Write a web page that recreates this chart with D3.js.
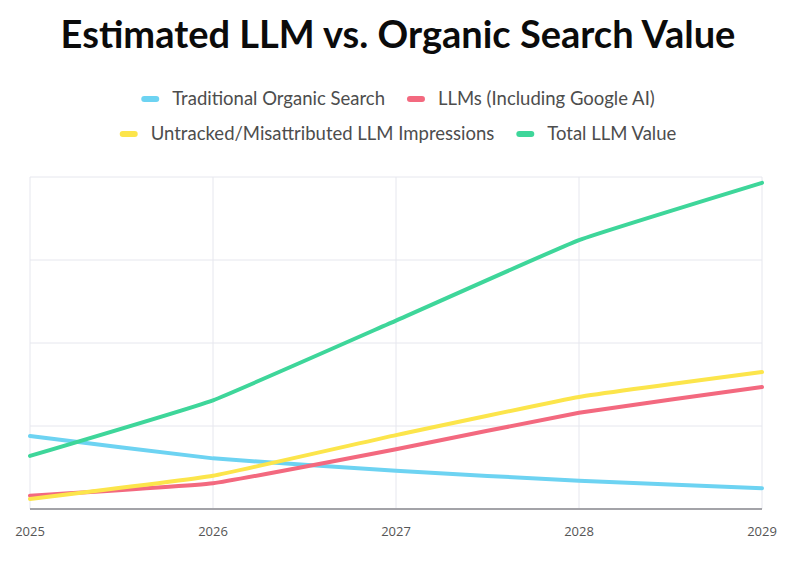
<!DOCTYPE html>
<html>
<head>
<meta charset="utf-8">
<script src="https://cdn.jsdelivr.net/npm/d3@7"></script>
<style>
body{margin:0;background:#fff;}
svg{display:block;font-family:Lato,"Open Sans",sans-serif;}
</style>
</head>
<body>
<div id="chart"></div>
<script>
(function(){

const years = ["2025","2026","2027","2028","2029"];
const seriesNames = ["Traditional Organic Search","LLMs (Including Google AI)","Untracked/Misattributed LLM Impressions","Total LLM Value"];
const organic = [0.88,0.61,0.46,0.34,0.25];
const llms = [0.16,0.31,0.72,1.16,1.47];
const untracked = [0.12,0.40,0.89,1.35,1.65];
const totalLLM = [0.64,1.31,2.27,3.24,3.93];
const colors = ["#6DD3F2","#F3697F","#FCE54B","#3ED69A"];

const width = 800;
const height = 561;
const margin = {top:177,right:38,bottom:52,left:30};

const svg = d3.select("#chart")
.append("svg")
.attr("width",width)
.attr("height",height);

const x = d3.scalePoint()
.domain(years)
.range([margin.left,width-margin.right]);

const y = d3.scaleLinear()
.domain([0,4])
.range([height-margin.bottom,margin.top]);

// -------------------
// GRID
// -------------------

svg.append("g")
.selectAll("line")
.data(years)
.enter()
.append("line")
.attr("x1",d=>x(d))
.attr("x2",d=>x(d))
.attr("y1",y(4))
.attr("y2",y(0))
.attr("stroke","#e6e7ee")
.attr("stroke-width",1);

svg.append("g")
.selectAll("line")
.data([1,2,3,4])
.enter()
.append("line")
.attr("x1",x(years[0]))
.attr("x2",x(years[years.length-1]))
.attr("y1",d=>y(d))
.attr("y2",d=>y(d))
.attr("stroke","#e6e7ee")
.attr("stroke-width",1);

// baseline
svg.append("line")
.attr("x1",x(years[0]))
.attr("x2",x(years[years.length-1]))
.attr("y1",y(0))
.attr("y2",y(0))
.attr("stroke","#a3a3a8")
.attr("stroke-width",2);

// x labels
svg.append("g")
.selectAll("text")
.data(years)
.enter()
.append("text")
.attr("x",d=>x(d))
.attr("y",y(0)+27)
.attr("text-anchor","middle")
.attr("fill","#555")
.style("font-size","13px")
.style("font-family","'Open Sans',sans-serif")
.text(d=>d);

// -------------------
// LINES
// -------------------

const data = [organic,llms,untracked,totalLLM];

const line = d3.line()
.x((d,i)=>x(years[i]))
.y(d=>y(d))
.curve(d3.curveCardinal.tension(0.7));

svg.append("g")
.selectAll("path")
.data(data)
.enter()
.append("path")
.attr("d",line)
.attr("fill","none")
.attr("stroke",(d,i)=>colors[i])
.attr("stroke-width",4)
.attr("stroke-linecap","round");

// -------------------
// TITLE
// -------------------

svg.append("text")
.attr("x",398)
.attr("y",48)
.attr("text-anchor","middle")
.attr("font-size","38px")
.attr("font-weight","bold")
.attr("fill","#0b0b0b")
.text("Estimated LLM vs. Organic Search Value");

// -------------------
// LEGEND
// -------------------

const legendRows = [[0,1],[2,3]];
const legendY = [99,134];

legendRows.forEach((row,r)=>{
const g = svg.append("g");
const items = row.map(i=>{
const item = g.append("g");
item.append("rect")
.attr("x",0)
.attr("y",-3)
.attr("width",18)
.attr("height",6)
.attr("rx",3)
.attr("fill",colors[i]);
const t = item.append("text")
.attr("x",31)
.attr("y",6)
.attr("fill","#4d4d4d")
.style("font-size","18.5px")
.text(seriesNames[i]);
return {item,w:31+t.node().getComputedTextLength()};
});
const gap = 22;
const total = d3.sum(items,d=>d.w)+gap*(items.length-1);
let cx = 398-total/2;
items.forEach(d=>{
d.item.attr("transform",`translate(${cx},${legendY[r]})`);
cx += d.w+gap;
});
});

})();
</script>
</body>
</html>
